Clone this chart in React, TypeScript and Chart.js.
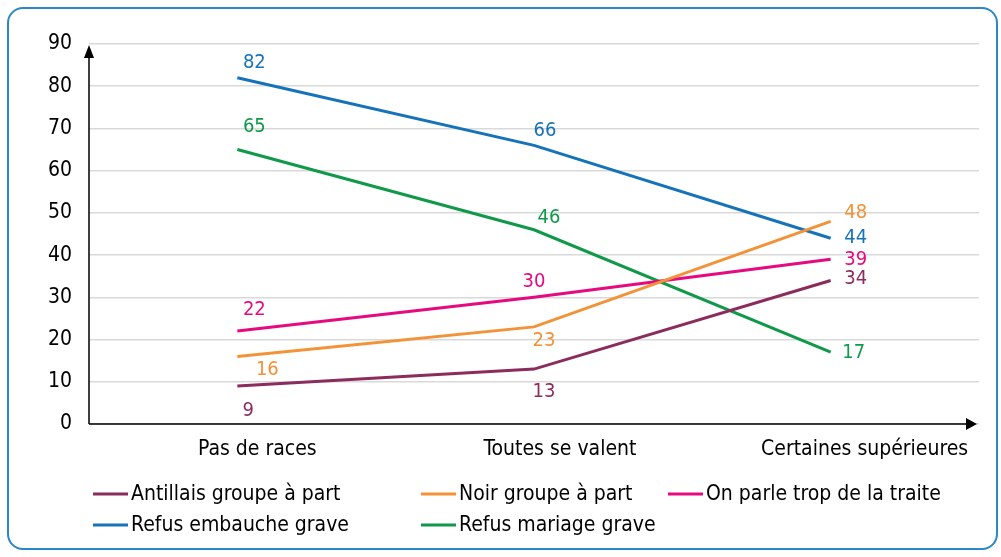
import React, { useEffect, useRef } from "react";
import { Chart, registerables } from "chart.js";

Chart.register(...registerables);

const categories = ["Pas de races", "Toutes se valent", "Certaines supérieures"];
const antillais = [9, 13, 34];
const noir = [16, 23, 48];
const traite = [22, 30, 39];
const embauche = [82, 66, 44];
const mariage = [65, 46, 17];
const yTicks = [0, 10, 20, 30, 40, 50, 60, 70, 80, 90];

const FONT = '"Liberation Sans Narrow", "DejaVu Sans Condensed", "Liberation Sans", sans-serif';

// horizontal shift of each category label from its category position
const catLabelShift = [20, 26, 34];

// label placement per point: [dx, dy]
const labelPlace: Record<string, [number, number][]> = {
  antillais: [[11, 25], [10, 23], [25, -2]],
  noir: [[30, 13], [10, 14], [25, -9]],
  traite: [[17, -21], [0, -16], [25, 0]],
  embauche: [[17, -15], [11, -15], [25, 0]],
  mariage: [[17, -23], [15, -12], [23, 1]],
};

const series = [
  { key: "antillais", label: "Antillais groupe à part", data: antillais, color: "#8b2c5c" },
  { key: "noir", label: "Noir groupe à part", data: noir, color: "#f39237" },
  { key: "traite", label: "On parle trop de la traite", data: traite, color: "#e6097f" },
  { key: "embauche", label: "Refus embauche grave", data: embauche, color: "#1672b9" },
  { key: "mariage", label: "Refus mariage grave", data: mariage, color: "#11994a" },
];

const legendPos: [number, number][] = [
  [93, 494], [421, 494], [668, 494], [93, 525], [421, 525],
];

export default function App() {
  const ref = useRef<HTMLCanvasElement>(null);
  useEffect(() => {
    document.body.style.margin = "0";
    const ctx = ref.current!;
    const plugin = {
      id: "custom",
      afterDatasetsDraw(chart: any) {
        const c = chart.ctx;
        const { left, right, top, bottom } = chart.chartArea;
        c.save();
        // axes
        c.strokeStyle = "#000";
        c.fillStyle = "#000";
        c.lineWidth = 1.5;
        c.beginPath();
        c.moveTo(left, bottom);
        c.lineTo(left, top + 8);
        c.moveTo(left, bottom);
        c.lineTo(right - 8, bottom);
        c.stroke();
        c.beginPath();
        c.moveTo(left, top + 1);
        c.lineTo(left - 5, top + 14);
        c.lineTo(left + 5, top + 14);
        c.closePath();
        c.fill();
        c.beginPath();
        c.moveTo(right - 2, bottom);
        c.lineTo(right - 13, bottom - 6);
        c.lineTo(right - 13, bottom + 6);
        c.closePath();
        c.fill();
        // category labels
        const xs = chart.scales.x;
        c.font = `21px ${FONT}`;
        c.textAlign = "center";
        c.textBaseline = "middle";
        c.fillStyle = "#000";
        categories.forEach((lab, i) => {
          c.fillText(lab, xs.getPixelForValue(i) + catLabelShift[i], bottom + 26);
        });
        // data labels
        c.font = `20px ${FONT}`;
        chart.data.datasets.forEach((ds: any, i: number) => {
          const meta = chart.getDatasetMeta(i);
          const place = labelPlace[series[i].key];
          c.fillStyle = ds.borderColor;
          meta.data.forEach((pt: any, j: number) => {
            const [dx, dy] = place[j];
            c.fillText(String(ds.data[j]), pt.x + dx, pt.y + dy);
          });
        });
        // legend
        c.font = `21px ${FONT}`;
        c.textAlign = "left";
        series.forEach((s, i) => {
          const [x, y] = legendPos[i];
          c.strokeStyle = s.color;
          c.lineWidth = 3;
          c.beginPath();
          c.moveTo(x, y);
          c.lineTo(x + 35, y);
          c.stroke();
          c.fillStyle = "#000";
          c.fillText(s.label, x + 38, y + 1);
        });
        c.restore();
      },
    };
    const chart = new Chart(ctx, {
      type: "line",
      data: {
        labels: categories,
        datasets: series.map((s) => ({
          label: s.label,
          data: s.data,
          borderColor: s.color,
          backgroundColor: s.color,
          borderWidth: 3,
          pointRadius: 0,
          tension: 0,
        })),
      },
      options: {
        animation: false,
        responsive: false,
        layout: { padding: { top: 44, right: 22, left: 0, bottom: 0 } },
        plugins: { legend: { display: false }, tooltip: { enabled: false } },
        scales: {
          x: {
            offset: true,
            grid: { display: false, drawTicks: false },
            border: { display: false },
            ticks: { display: false },
            afterFit(scale: any) {
              scale.height = 133;
            },
          },
          y: {
            min: 0,
            max: 90,
            afterBuildTicks(scale: any) {
              scale.ticks = yTicks.map((v) => ({ value: v }));
            },
            grid: { color: "#d9d9d9", lineWidth: 1.5, drawTicks: false },
            border: { display: false },
            ticks: { color: "#000", font: { family: FONT, size: 21 }, padding: 17 },
            afterFit(scale: any) {
              scale.width = 89;
            },
          },
        },
      },
      plugins: [plugin],
    });
    return () => chart.destroy();
  }, []);
  return (
    <div style={{ position: "relative", width: 1001, height: 557, background: "#fff" }}>
      <canvas ref={ref} width={1001} height={557} style={{ display: "block" }} />
      <div
        style={{
          position: "absolute",
          left: 7,
          top: 7,
          width: 987,
          height: 539,
          border: "2px solid #2a87c9",
          borderRadius: 16,
          pointerEvents: "none",
        }}
      />
    </div>
  );
}
